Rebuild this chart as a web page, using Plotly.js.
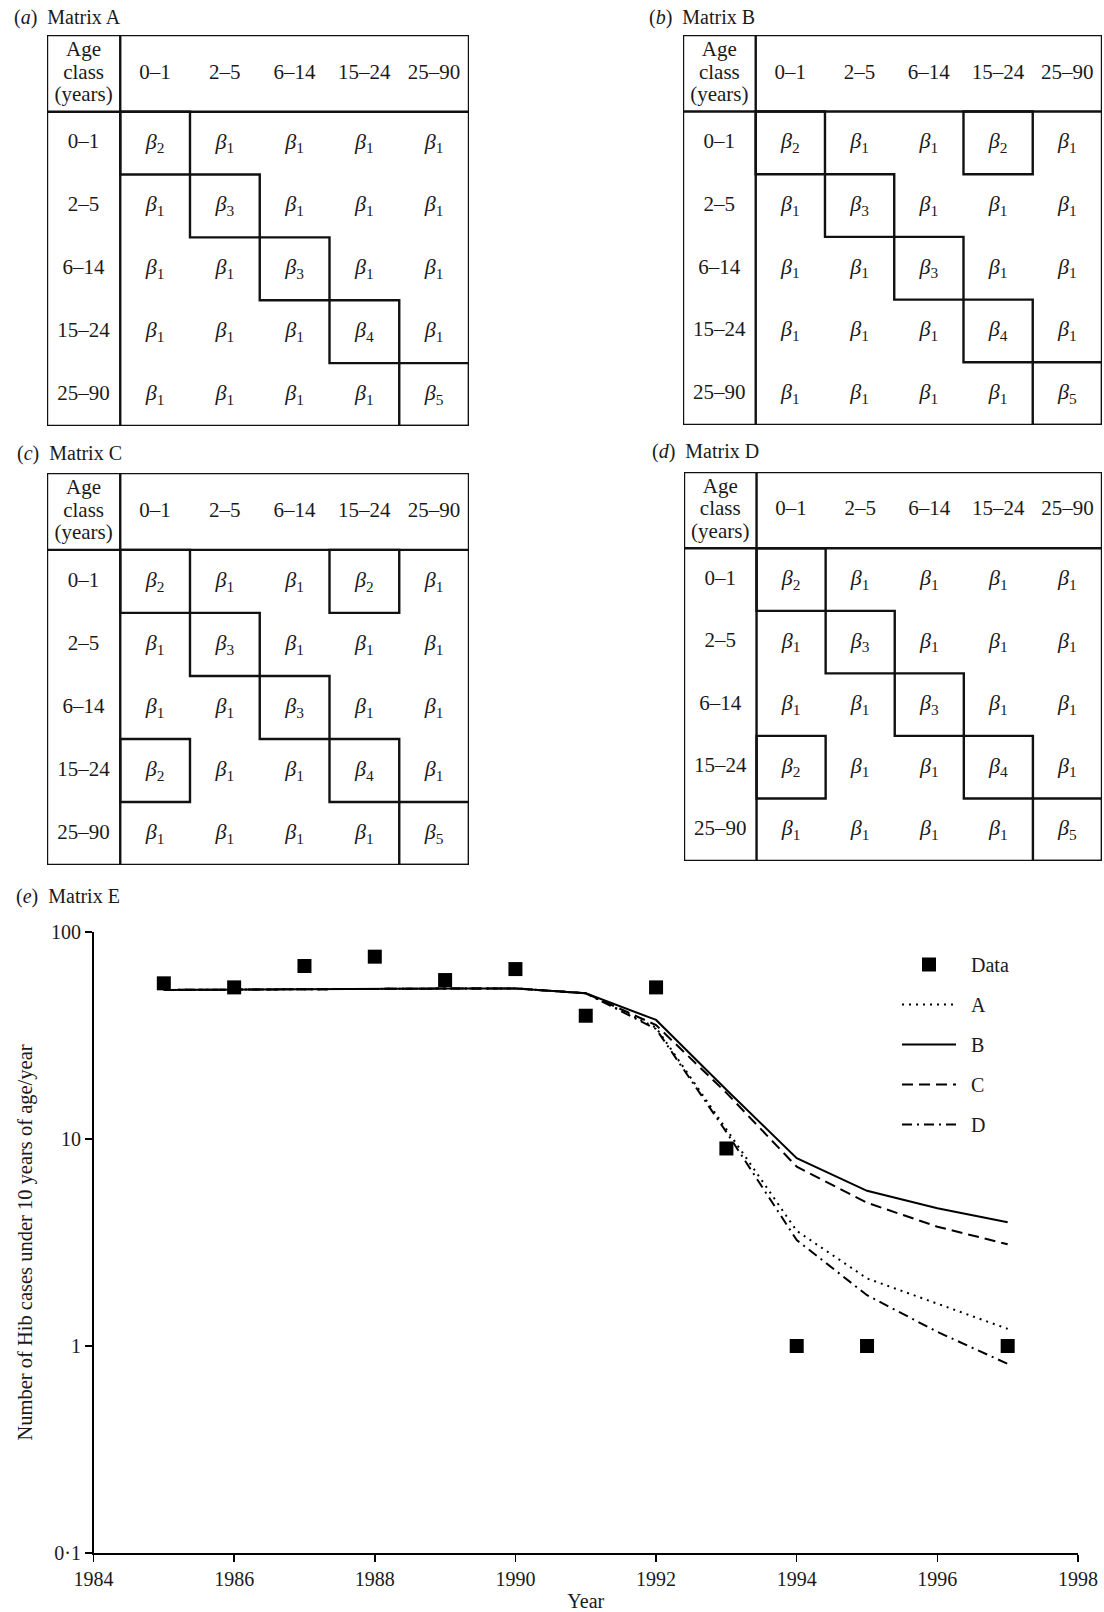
<!DOCTYPE html>
<html>
<head>
<meta charset="utf-8">
<script src="https://cdn.plot.ly/plotly-3.0.1.min.js"></script>
<style>html,body{margin:0;padding:0;background:#fff;}#chart{width:1104px;height:1612px;}</style>
</head>
<body>
<div id="chart"></div>
<script>
// ---------------- data ----------------
const ageClasses = ['0–1', '2–5', '6–14', '15–24', '25–90'];
const headerLines = ['Age', 'class', '(years)'];

// subscripts of beta in each WAIFW matrix (row = age class of susceptible, col = infective)
const matrixA = [
  [2, 1, 1, 1, 1],
  [1, 3, 1, 1, 1],
  [1, 1, 3, 1, 1],
  [1, 1, 1, 4, 1],
  [1, 1, 1, 1, 5]
];
const matrixB = [
  [2, 1, 1, 2, 1],
  [1, 3, 1, 1, 1],
  [1, 1, 3, 1, 1],
  [1, 1, 1, 4, 1],
  [1, 1, 1, 1, 5]
];
const matrixC = [
  [2, 1, 1, 2, 1],
  [1, 3, 1, 1, 1],
  [1, 1, 3, 1, 1],
  [2, 1, 1, 4, 1],
  [1, 1, 1, 1, 5]
];
const matrixD = [
  [2, 1, 1, 1, 1],
  [1, 3, 1, 1, 1],
  [1, 1, 3, 1, 1],
  [2, 1, 1, 4, 1],
  [1, 1, 1, 1, 5]
];

const years = [1985, 1986, 1987, 1988, 1989, 1990, 1991, 1992, 1993, 1994, 1995, 1996, 1997];
const dataCases = [56.5, 54.0, 68.5, 76.0, 58.6, 66.2, 39.4, 54.0, 9.0, 1.0, 1.0, null, 1.0];
const modelA = [52.5, 52.8, 53.0, 53.2, 53.3, 53.4, 50.6, 34.5, 11.2, 3.6, 2.12, 1.60, 1.21];
const modelB = [52.5, 52.8, 53.0, 53.2, 53.3, 53.4, 50.6, 37.6, 17.3, 8.07, 5.62, 4.63, 3.96];
const modelC = [52.5, 52.8, 53.0, 53.2, 53.3, 53.4, 50.6, 35.5, 16.7, 7.35, 4.92, 3.77, 3.10];
const modelD = [52.5, 52.8, 53.0, 53.2, 53.3, 53.4, 50.6, 34.0, 10.8, 3.25, 1.76, 1.17, 0.82];
const seriesNames = ['Data', 'A', 'B', 'C', 'D'];

const xTickVals = [1984, 1986, 1988, 1990, 1992, 1994, 1996, 1998];
const xTickText = ['1984', '1986', '1988', '1990', '1992', '1994', '1996', '1998'];
const yTickVals = [0.1, 1, 10, 100];
const yTickText = ['0·1', '1', '10', '100'];

const panelLetters = ['a', 'b', 'c', 'd', 'e'];
const panelNames = ['Matrix A', 'Matrix B', 'Matrix C', 'Matrix D', 'Matrix E'];

// ---------------- layout helpers ----------------
const W = 1104, H = 1612;
const px = x => x / W;
const py = y => 1 - y / H;
const FONT = 'Liberation Serif, Times New Roman, serif';
const INK = '#1a1a1a';
const HW = 1.05;    // header column width (in cell units)
const HH = 1.22;    // header row height (in cell units)
const HL = 0.355;   // line step of the stacked header label (in cell units)

const panels = [
  {m: matrixA, ax: 2, box: [47, 35, 469, 426],  lab: [12, 17]},
  {m: matrixB, ax: 3, box: [683, 35, 1102, 425], lab: [647, 17]},
  {m: matrixC, ax: 4, box: [47, 473, 469, 865],  lab: [15, 453]},
  {m: matrixD, ax: 5, box: [684, 472, 1102, 861], lab: [650, 452]}
];

const traces = [];
const shapes = [];
const annotations = [];
const layout = {
  width: W, height: H,
  margin: {l: 0, r: 0, t: 0, b: 0},
  paper_bgcolor: '#fff', plot_bgcolor: '#fff',
  font: {family: FONT, color: INK, size: 20},
  showlegend: true
};

panels.forEach((p, k) => {
  const xa = 'x' + p.ax, ya = 'y' + p.ax;
  layout['xaxis' + p.ax] = {
    domain: [px(p.box[0]), px(p.box[2])], range: [-HW, 5],
    visible: false, anchor: ya, fixedrange: true
  };
  layout['yaxis' + p.ax] = {
    domain: [py(p.box[3]), py(p.box[1])], range: [5, -HH],
    visible: false, anchor: xa, fixedrange: true
  };
  const xs = [], ys = [], tx = [];
  headerLines.forEach((t, n) => { xs.push(-HW / 2); ys.push(-HH / 2 + (n - 1) * HL); tx.push(t); });
  ageClasses.forEach((a, j) => { xs.push(j + 0.5); ys.push(-HH / 2); tx.push(a); });
  ageClasses.forEach((a, i) => { xs.push(-HW / 2); ys.push(i + 0.5); tx.push(a); });
  traces.push({
    type: 'scatter', mode: 'text', x: xs, y: ys, text: tx, xaxis: xa, yaxis: ya,
    textfont: {family: FONT, size: 21, color: INK}, textposition: 'middle center',
    showlegend: false, hoverinfo: 'skip', cliponaxis: false
  });
  const cx = [], cy = [], ct = [];
  p.m.forEach((row, i) => row.forEach((v, j) => {
    cx.push(j + 0.5); cy.push(i + 0.5); ct.push('<i>β</i><sub>' + v + '</sub>');
  }));
  traces.push({
    type: 'scatter', mode: 'text', x: cx, y: cy, text: ct, xaxis: xa, yaxis: ya,
    textfont: {family: FONT, size: 22, color: INK}, textposition: 'middle center',
    showlegend: false, hoverinfo: 'skip', cliponaxis: false
  });
  const ln = {color: '#111', width: 2.4};
  shapes.push({type: 'rect', xref: xa, yref: ya, x0: -HW, x1: 5, y0: -HH, y1: 5, line: ln});
  shapes.push({type: 'line', xref: xa, yref: ya, x0: 0, x1: 0, y0: -HH, y1: 5, line: ln});
  shapes.push({type: 'line', xref: xa, yref: ya, x0: -HW, x1: 5, y0: 0, y1: 0, line: ln});
  p.m.forEach((row, i) => row.forEach((v, j) => {
    if (v !== 1) shapes.push({type: 'rect', xref: xa, yref: ya, x0: j, x1: j + 1, y0: i, y1: i + 1, line: ln});
  }));
  annotations.push({
    xref: 'paper', yref: 'paper', x: px(p.lab[0]), y: py(p.lab[1]),
    xanchor: 'left', yanchor: 'middle', showarrow: false,
    text: '(<i>' + panelLetters[k] + '</i>)\u00a0\u00a0' + panelNames[k],
    font: {family: FONT, size: 20, color: INK}
  });
});

annotations.push({
  xref: 'paper', yref: 'paper', x: px(14), y: py(896),
  xanchor: 'left', yanchor: 'middle', showarrow: false,
  text: '(<i>' + panelLetters[4] + '</i>)\u00a0\u00a0' + panelNames[4],
  font: {family: FONT, size: 20, color: INK}
});

// ---------------- panel (e) ----------------
const PAD = '\u00a0\u00a0';
traces.push({
  type: 'scatter', mode: 'markers', name: PAD + seriesNames[0], x: years, y: dataCases,
  marker: {symbol: 'square', size: 14, color: '#000'}, legendgroup: 'g0', cliponaxis: false
});
const models = [modelA, modelB, modelC, modelD];
const dashes = ['2px,5px', 'solid', '11px,6px', '10px,5px,2px,5px'];
models.forEach((m, k) => {
  traces.push({
    type: 'scatter', mode: 'lines', name: PAD + seriesNames[k + 1], x: years, y: m,
    line: {color: '#000', width: 2, dash: dashes[k]}, legendgroup: 'g' + (k + 1), cliponaxis: false
  });
});

layout.xaxis = {
  domain: [px(93.5), px(1078)], range: [1984, 1998], anchor: 'y',
  tickmode: 'array', tickvals: xTickVals, ticktext: xTickText,
  ticks: 'outside', ticklen: 7, tickwidth: 1.5, tickcolor: '#000',
  showline: true, linewidth: 1.5, linecolor: '#000',
  showgrid: false, zeroline: false,
  tickfont: {family: FONT, size: 20, color: INK},
  title: {text: 'Year', font: {family: FONT, size: 20, color: INK}, standoff: 8}
};
layout.yaxis = {
  type: 'log', domain: [py(1553), py(932)], range: [-1, 2], anchor: 'x',
  tickmode: 'array', tickvals: yTickVals, ticktext: yTickText,
  ticks: 'outside', ticklen: 7, tickwidth: 1.5, tickcolor: '#000',
  showline: true, linewidth: 1.5, linecolor: '#000',
  showgrid: false, zeroline: false,
  tickfont: {family: FONT, size: 20, color: INK},
  title: {text: 'Number of Hib cases under 10 years of age/year', font: {family: FONT, size: 20.5, color: INK}, standoff: 13}
};
layout.legend = {
  x: px(897), xanchor: 'left', y: py(945), yanchor: 'top',
  font: {family: FONT, size: 20, color: INK}, bgcolor: 'rgba(0,0,0,0)',
  traceorder: 'grouped', tracegroupgap: 11, itemwidth: 54
};
layout.shapes = shapes;
layout.annotations = annotations;

Plotly.newPlot('chart', traces, layout, {staticPlot: true, displayModeBar: false});
</script>
</body>
</html>
